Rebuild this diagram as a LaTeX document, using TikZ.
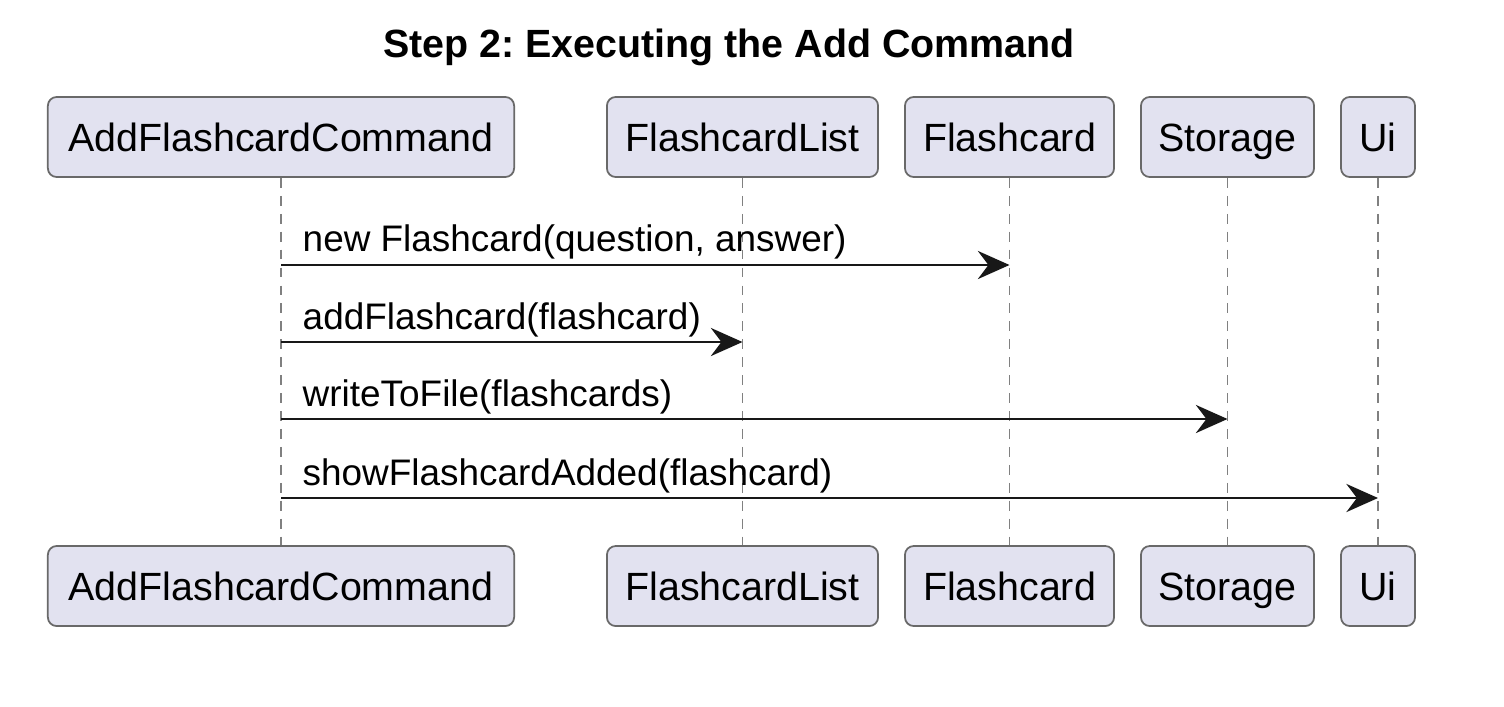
\documentclass[tikz,border=0pt]{standalone}
\usepackage{fontspec}
\setmainfont{Liberation Sans}
\usetikzlibrary{arrows.meta,positioning}
\definecolor{partfill}{HTML}{E2E2F0}
\definecolor{umlline}{HTML}{181818}
\begin{document}
\begin{tikzpicture}[x=0.01cm, y=-0.01cm,
      participant/.style={rectangle, rounded corners=2.5pt, draw=umlline!65, fill=partfill, line width=0.5pt,
        minimum height=0.8cm, inner xsep=0pt, text height=8pt, text depth=0pt, font=\fontsize{11.2}{13}\selectfont},
      lifeline/.style={draw=umlline!55, line width=0.5pt, dash pattern=on 2.8pt off 2.3pt},
      msg/.style={draw=umlline, line width=0.7pt, -{Stealth[length=9pt,width=8pt,inset=3pt]}},
      msglabel/.style={font=\fontsize{10.5}{12}\selectfont, anchor=base west, inner sep=0pt}]
      \useasboundingbox (0,0) rectangle (1504,706);

      % Title
      \node[font=\bfseries\fontsize{11.2}{13}\selectfont] (title) at (729,47) {\frenchspacing Step 2: Executing the Add Command};

      % Define participants (top)
      \node[participant, minimum width=4.66cm] (cmd) at (281,137) {AddFlashcardCommand};
      \node[participant, minimum width=2.71cm] (list) at (742.5,137) {FlashcardList};
      \node[participant, minimum width=2.09cm] (card) at (1009.5,137) {Flashcard};
      \node[participant, minimum width=1.73cm] (store) at (1227.5,137) {Storage};
      \node[participant, minimum width=0.74cm] (ui) at (1378,137) {Ui};

      % Participants repeated at the bottom
      \node[participant, minimum width=4.66cm, below=3.67cm of cmd] (cmdB) {AddFlashcardCommand};
      \node[participant, minimum width=2.71cm, below=3.67cm of list] (listB) {FlashcardList};
      \node[participant, minimum width=2.09cm, below=3.67cm of card] (cardB) {Flashcard};
      \node[participant, minimum width=1.73cm, below=3.67cm of store] (storeB) {Storage};
      \node[participant, minimum width=0.74cm, below=3.67cm of ui] (uiB) {Ui};

      % Lifelines
      \draw[lifeline] (cmd.south) -- (cmdB.north);
      \draw[lifeline] (list.south) -- (listB.north);
      \draw[lifeline] (card.south) -- (cardB.north);
      \draw[lifeline] (store.south) -- (storeB.north);
      \draw[lifeline] (ui.south) -- (uiB.north);

      % Messages
      \draw[msg] (cmd |- 0,265) -- (card |- 0,265);
      \node[msglabel] (m1) at ([xshift=0.21cm, yshift=0.13cm]cmd |- 0,265) {new Flashcard(question, answer)};
      \draw[msg] (cmd |- 0,342) -- (list |- 0,342);
      \node[msglabel] (m2) at ([xshift=0.21cm, yshift=0.13cm]cmd |- 0,342) {addFlashcard(flashcard)};
      \draw[msg] (cmd |- 0,419) -- (store |- 0,419);
      \node[msglabel] (m3) at ([xshift=0.21cm, yshift=0.13cm]cmd |- 0,419) {writeToFile(flashcards)};
      \draw[msg] (cmd |- 0,498) -- (ui |- 0,498);
      \node[msglabel] (m4) at ([xshift=0.21cm, yshift=0.13cm]cmd |- 0,498) {showFlashcardAdded(flashcard)};
    \end{tikzpicture}
\end{document}
